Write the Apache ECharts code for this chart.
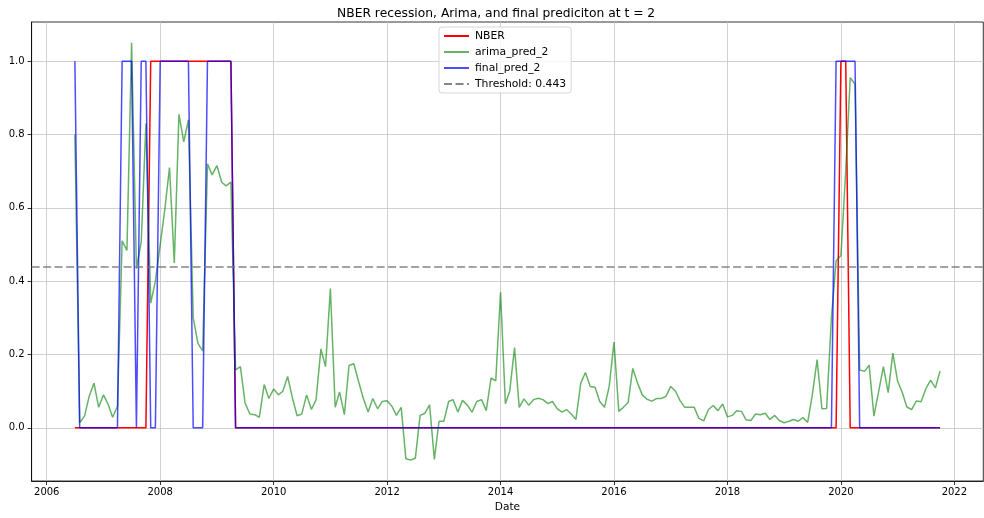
<!DOCTYPE html>
<html><head><meta charset="utf-8">
<script src="https://cdn.jsdelivr.net/npm/echarts@6/dist/echarts.min.js"></script>
<style>html,body{margin:0;padding:0;background:#fff}#c{width:984px;height:518px}</style>
</head><body><div id="c"></div>
<script>
// ---- data (monthly, first month below) ----
const startMonth = '2006-07';
const nber = [
0,0,0,0,0,0,0,0,0,0,0,0,
0,0,0,0,1,1,1,1,1,1,1,1,
1,1,1,1,1,1,1,1,1,1,0,0,
0,0,0,0,0,0,0,0,0,0,0,0,
0,0,0,0,0,0,0,0,0,0,0,0,
0,0,0,0,0,0,0,0,0,0,0,0,
0,0,0,0,0,0,0,0,0,0,0,0,
0,0,0,0,0,0,0,0,0,0,0,0,
0,0,0,0,0,0,0,0,0,0,0,0,
0,0,0,0,0,0,0,0,0,0,0,0,
0,0,0,0,0,0,0,0,0,0,0,0,
0,0,0,0,0,0,0,0,0,0,0,0,
0,0,0,0,0,0,0,0,0,0,0,0,
0,0,0,0,0,0,1,1,0,0,0,0,
0,0,0,0,0,0,0,0,0,0,0,0,
0,0,0,0
];
const arimaPred2 = [
0.80,0.014,0.032,0.086,0.122,0.056,0.09,0.063,0.029,0.059,0.51,0.484,
1.05,0.434,0.507,0.83,0.34,0.40,0.50,0.60,0.71,0.45,0.855,0.78,
0.84,0.30,0.23,0.21,0.72,0.69,0.715,0.67,0.66,0.67,0.158,0.167,
0.068,0.038,0.036,0.029,0.118,0.08,0.106,0.09,0.10,0.14,0.083,0.033,
0.038,0.09,0.05,0.077,0.215,0.167,0.38,0.056,0.098,0.036,0.17,0.175,
0.127,0.08,0.043,0.08,0.052,0.072,0.074,0.059,0.034,0.056,-0.084,-0.088,
-0.083,0.034,0.04,0.063,-0.086,0.018,0.018,0.072,0.077,0.043,0.075,0.062,
0.043,0.072,0.077,0.047,0.136,0.128,0.37,0.066,0.10,0.219,0.056,0.079,
0.062,0.077,0.081,0.077,0.066,0.072,0.052,0.043,0.05,0.038,0.023,0.122,
0.151,0.113,0.111,0.072,0.056,0.113,0.234,0.045,0.056,0.069,0.162,0.122,
0.09,0.078,0.073,0.08,0.08,0.086,0.113,0.10,0.075,0.056,0.056,0.056,
0.026,0.019,0.05,0.061,0.047,0.065,0.03,0.034,0.047,0.045,0.022,0.02,
0.038,0.036,0.04,0.023,0.034,0.02,0.014,0.018,0.023,0.018,0.028,0.015,
0.09,0.186,0.052,0.053,0.30,0.455,0.47,0.70,0.955,0.938,0.158,0.154,
0.171,0.032,0.10,0.167,0.096,0.204,0.127,0.095,0.057,0.05,0.073,0.071,
0.106,0.13,0.109,0.155
];
const finalPred2 = [
1,0,0,0,0,0,0,0,0,0,1,1,
1,0,1,1,0,0,1,1,1,1,1,1,
1,0,0,0,1,1,1,1,1,1,0,0,
0,0,0,0,0,0,0,0,0,0,0,0,
0,0,0,0,0,0,0,0,0,0,0,0,
0,0,0,0,0,0,0,0,0,0,0,0,
0,0,0,0,0,0,0,0,0,0,0,0,
0,0,0,0,0,0,0,0,0,0,0,0,
0,0,0,0,0,0,0,0,0,0,0,0,
0,0,0,0,0,0,0,0,0,0,0,0,
0,0,0,0,0,0,0,0,0,0,0,0,
0,0,0,0,0,0,0,0,0,0,0,0,
0,0,0,0,0,0,0,0,0,0,0,0,
0,0,0,0,0,1,1,1,1,1,0,0,
0,0,0,0,0,0,0,0,0,0,0,0,
0,0,0,0
];
const threshold = 0.443;
const xTickLabels = [2006,2008,2010,2012,2014,2016,2018,2020,2022];
const yTickLabels = [0.0,0.2,0.4,0.6,0.8,1.0];

// ---- month categories -> decimal-year positions ----
function monthList(start, n){
  let [y,m] = start.split('-').map(Number); const out=[];
  for(let k=0;k<n;k++){ out.push(y+'-'+String(m).padStart(2,'0')); m++; if(m>12){m=1;y++;} }
  return out;
}
const dates = monthList(startMonth, arimaPred2.length);
function decYear(s){
  const [y,m]=s.split('-').map(Number);
  const t=Date.UTC(y,m-1,1), t0=Date.UTC(y,0,1), t1=Date.UTC(y+1,0,1);
  return y+(t-t0)/(t1-t0);
}
const xs = dates.map(decYear);
const pair = arr => arr.map((v,i)=>[xs[i], v]);

const FONT = 'DejaVu Sans';
const TH_COLOR = 'rgba(120,120,120,0.9)';
const chart = echarts.init(document.getElementById('c'), null, {renderer:'canvas'});
const axisCommon = {
  axisLine:{show:true, onZero:false, lineStyle:{color:'#000', width:0.8}},
  splitLine:{show:true, lineStyle:{color:'#c4c4c4', width:0.8}},
};
chart.setOption({
  animation:false,
  backgroundColor:'#fff',
  title:{text:'NBER recession, Arima, and final prediciton at t = 2', left:332, top:3,
    textStyle:{fontFamily:FONT, fontSize:12.3, fontWeight:'normal', color:'#000'}},
  grid:{left:31.6, right:0.7, top:22, bottom:34, show:true, borderColor:'#000', borderWidth:0.8, backgroundColor:'transparent'},
  legend:{
    orient:'vertical', left:439, top:27, itemWidth:25, itemHeight:12, itemGap:4,
    padding:[3,5,3,4], backgroundColor:'rgba(255,255,255,0.8)', borderColor:'#cccccc',
    borderWidth:0.8, borderRadius:3,
    itemStyle:{opacity:0},
    textStyle:{fontFamily:FONT, fontSize:10.8, color:'#000', padding:[0,0,0,1], lineHeight:12},
    data:['NBER','arima_pred_2','final_pred_2','Threshold: 0.443']
  },
  xAxis:Object.assign({
    type:'value', min:2005.733, max:2022.51,
    name:'Date', nameLocation:'middle', nameGap:21,
    nameTextStyle:{fontFamily:FONT, fontSize:10.6, color:'#000'},
    axisTick:{show:true, length:4, customValues:xTickLabels, lineStyle:{color:'#000', width:0.8}},
    axisLabel:{customValues:xTickLabels, margin:6, fontFamily:FONT, fontSize:10, color:'#000',
      formatter:v=>String(Math.round(v))}
  }, axisCommon),
  yAxis:Object.assign({
    type:'value', min:-0.1449, max:1.1069,
    axisTick:{show:true, length:4, customValues:yTickLabels, lineStyle:{color:'#000', width:0.8}},
    axisLabel:{customValues:yTickLabels, margin:7, fontFamily:FONT, fontSize:10, color:'#000',
      formatter:v=>v.toFixed(1)}
  }, axisCommon),
  series:[
    {name:'NBER', type:'line', data:pair(nber), symbol:'none', showSymbol:false,
      lineStyle:{color:'#ff0000', width:1.5}, itemStyle:{color:'#ff0000'}, emphasis:{disabled:true}},
    {name:'arima_pred_2', type:'line', data:pair(arimaPred2), symbol:'none', showSymbol:false,
      lineStyle:{color:'rgba(0,128,0,0.6)', width:1.5}, itemStyle:{color:'rgba(0,128,0,0.6)'}, emphasis:{disabled:true}},
    {name:'final_pred_2', type:'line', data:pair(finalPred2), symbol:'none', showSymbol:false,
      lineStyle:{color:'rgba(0,0,255,0.7)', width:1.5}, itemStyle:{color:'rgba(0,0,255,0.7)'}, emphasis:{disabled:true}},
    {name:'Threshold: 0.443', type:'line', data:[], symbol:'none', showSymbol:false,
      lineStyle:{color:TH_COLOR, width:1.7, type:[8,3.5]}, itemStyle:{color:TH_COLOR},
      markLine:{symbol:'none', silent:true, label:{show:false},
        lineStyle:{color:TH_COLOR, width:1.7, type:[8,3.5]},
        emphasis:{disabled:true},
        data:[{yAxis:threshold}]}}
  ]
});
</script></body></html>
